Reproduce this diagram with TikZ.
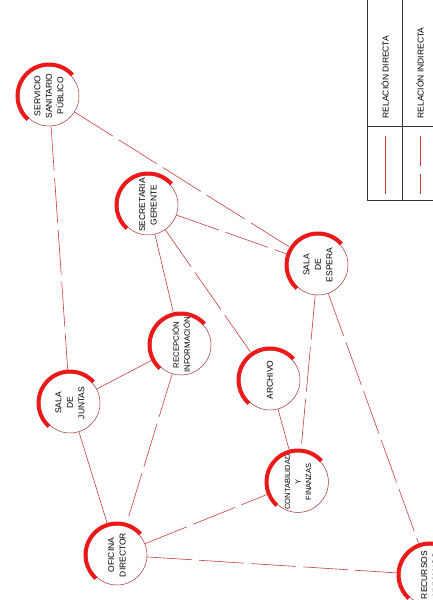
\documentclass[tikz,border=0pt]{standalone}
\usepackage{fontspec}
\setmainfont{Liberation Sans}
\usetikzlibrary{calc}
\definecolor{rojo}{RGB}{205,60,60}
\definecolor{borde}{RGB}{160,50,50}
\definecolor{marca}{RGB}{236,25,25}

\begin{document}
\begin{tikzpicture}[x=1pt,y=-1pt,
    area/.style={circle,draw=borde,line width=0.5pt,fill=white,minimum size=60pt,inner sep=0pt,
        align=center,rotate=90,font=\fontsize{8.5}{11.5}\selectfont},
    directa/.style={rojo,line width=0.6pt},
    indirecta/.style={rojo,line width=0.6pt,dash pattern=on 45pt off 7pt}]
    \useasboundingbox (0,0) rectangle (433,600);

    % areas
    \node[area] (sanitario) at (49,96) {SERVICIO\\SANITARIO\\PÚBLICO};
    \node[area] (secretaria) at (148,205) {SECRETARIA\\GERENTE};
    \node[area] (espera) at (318,265) {SALA\\DE\\ESPERA};
    \node[area,font=\fontsize{7.8}{11}\selectfont] (recepcion) at (181,345) {RECEPCIÓN\\INFORMACIÓN};
    \node[area] (archivo) at (270,380) {ARCHIVO};
    \node[area] (juntas) at (70,403) {SALA\\DE\\JUNTAS};
    \node[area] (director) at (117,555) {OFICINA\\DIRECTOR};
    \node[area,font=\fontsize{7.5}{10.5}\selectfont] (contable) at (298,482) {CONTABILIDAD\\Y\\FINANZAS};
    \node[area] (rrhh) at (430,575) {RECURSOS\\HUMANOS};

    % relaciones
    \draw[directa] (secretaria) -- (recepcion);
    \draw[directa] (recepcion) -- (juntas);
    \draw[directa] (juntas) -- (director);
    \draw[directa] (archivo) -- (contable);
    \draw[indirecta] (recepcion) -- (director);
    \draw[indirecta] (espera) -- (contable);
    \draw[indirecta] (sanitario) -- (juntas);
    \draw[indirecta] (sanitario) -- (espera);
    \draw[indirecta] (secretaria) -- (espera);
    \draw[indirecta] (secretaria) -- (archivo);
    \draw[indirecta] (director) -- (contable);
    \draw[indirecta] (director) -- (rrhh);
    \draw[indirecta] (espera) -- (rrhh);

    % marcas rojas
    \foreach \n in {sanitario,secretaria,espera,recepcion,archivo,juntas,director,contable,rrhh} {
        \draw[marca,line width=4pt] ($(\n)+(-42:31.5)$) arc (-42:-228:31.5);
    }

    % leyenda
    \draw[line width=0.5pt,black!80] (367,-5) rectangle (440,200);
    \draw[line width=0.5pt,black!80] (402,-5) -- (402,200);
    \draw[line width=0.5pt,black!80] (367,126) -- (440,126);
    \node[rotate=90,font=\fontsize{8.5}{10}\selectfont] (txtdir) at (385,77) {RELACIÓN DIRECTA};
    \node[rotate=90,font=\fontsize{8.5}{10}\selectfont] (txtind) at (420,73) {RELACIÓN INDIRECTA};
    \coordinate (d1) at (385,136);
    \coordinate (d2) at (385,194);
    \coordinate (i1) at (420,136);
    \coordinate (i2) at (420,194);
    \draw[directa] (d1) -- (d2);
    \draw[rojo,line width=0.6pt,dash pattern=on 30pt off 8pt] (i1) -- (i2);
\end{tikzpicture}
\end{document}
